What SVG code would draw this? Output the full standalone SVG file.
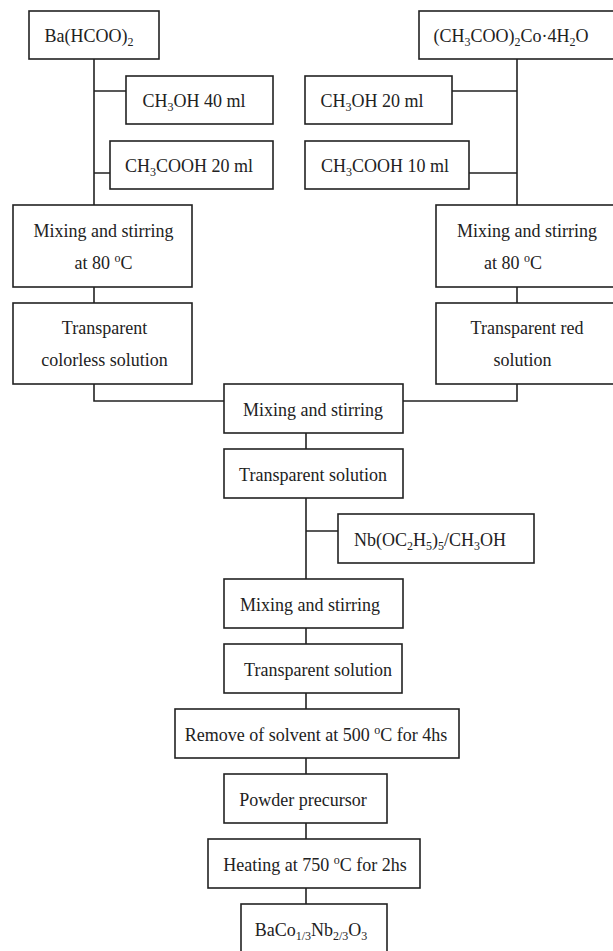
<svg xmlns="http://www.w3.org/2000/svg" width="613" height="951" viewBox="0 0 613 951">
<style>
rect{fill:#fff;stroke:#222;stroke-width:1.6}
text{font-family:'Liberation Serif','Times New Roman',Times,serif;font-size:18px;fill:#222;text-anchor:middle}
.s{font-size:12px}
#connectors path{fill:none;stroke:#222;stroke-width:1.6}
</style>
<rect x="0" y="0" width="613" height="951" style="stroke:none"/>
<g id="connectors">
<path d="M94 59V205M94 91H126M94 173H110M94 287V303M94 384V401H224"/>
<path d="M517 59V205M452 91H517M469 173H517M517 287V303M517 384V401H403"/>
<path d="M306 433V449M306 498V579M306 531H338M306 628V644M306 693V709M306 758V774M306 823V839M306 888V904"/>
</g>
<g font-family="Liberation Serif, serif">
<g id="ba"><rect x="29" y="11" width="130" height="48"/><text x="89" y="42">Ba(HCOO)<tspan class="s" dy="4">2</tspan></text></g>
<g id="meoh40"><rect x="126" y="76" width="147" height="48"/><text x="194" y="107">CH<tspan class="s" dy="4">3</tspan><tspan dy="-4">OH 40 ml</tspan></text></g>
<g id="acoh20"><rect x="110" y="141" width="163" height="48"/><text x="189" y="172">CH<tspan class="s" dy="4">3</tspan><tspan dy="-4">COOH 20 ml</tspan></text></g>
<g id="co"><rect x="419" y="11" width="196" height="48"/><text x="511" y="42">(CH<tspan class="s" dy="4">3</tspan><tspan dy="-4">COO)</tspan><tspan class="s" dy="4">2</tspan><tspan dy="-4">Co·4H</tspan><tspan class="s" dy="4">2</tspan><tspan dy="-4">O</tspan></text></g>
<g id="meoh20"><rect x="305" y="76" width="147" height="48"/><text x="372" y="107">CH<tspan class="s" dy="4">3</tspan><tspan dy="-4">OH 20 ml</tspan></text></g>
<g id="acoh10"><rect x="305" y="141" width="164" height="48"/><text x="385" y="172">CH<tspan class="s" dy="4">3</tspan><tspan dy="-4">COOH 10 ml</tspan></text></g>
<g id="mixL"><rect x="13" y="205" width="179" height="82"/><text x="103.5" y="237">Mixing and stirring</text><text x="103.5" y="269">at 80 <tspan class="s" dy="-7">o</tspan><tspan dy="7">C</tspan></text></g>
<g id="mixR"><rect x="436" y="205" width="179" height="82"/><text x="527" y="237">Mixing and stirring</text><text x="513" y="269">at 80 <tspan class="s" dy="-7">o</tspan><tspan dy="7">C</tspan></text></g>
<g id="solL"><rect x="13" y="303" width="179" height="81"/><text x="104.5" y="334">Transparent</text><text x="104.5" y="366">colorless solution</text></g>
<g id="solR"><rect x="436" y="303" width="179" height="81"/><text x="527" y="334">Transparent red</text><text x="522.5" y="366">solution</text></g>
<g id="mix1"><rect x="224" y="384" width="179" height="49"/><text x="313" y="416">Mixing and stirring</text></g>
<g id="ts1"><rect x="224" y="449" width="179" height="49"/><text x="313" y="481">Transparent solution</text></g>
<g id="nb"><rect x="338" y="514" width="196" height="49"/><text x="430" y="546">Nb(OC<tspan class="s" dy="4">2</tspan><tspan dy="-4">H</tspan><tspan class="s" dy="4">5</tspan><tspan dy="-4">)</tspan><tspan class="s" dy="4">5</tspan><tspan dy="-4">/CH</tspan><tspan class="s" dy="4">3</tspan><tspan dy="-4">OH</tspan></text></g>
<g id="mix2"><rect x="224" y="579" width="179" height="49"/><text x="310" y="611">Mixing and stirring</text></g>
<g id="ts2"><rect x="224" y="644" width="178" height="49"/><text x="318" y="676">Transparent solution</text></g>
<g id="remove"><rect x="175" y="709" width="284" height="49"/><text x="316" y="741">Remove of solvent at 500 <tspan class="s" dy="-7">o</tspan><tspan dy="7">C for 4hs</tspan></text></g>
<g id="powder"><rect x="224" y="774" width="163" height="49"/><text x="303" y="806">Powder precursor</text></g>
<g id="heat"><rect x="208" y="839" width="212" height="49"/><text x="315" y="871">Heating at 750 <tspan class="s" dy="-7">o</tspan><tspan dy="7">C for 2hs</tspan></text></g>
<g id="product"><rect x="241" y="904" width="146" height="60"/><text x="311" y="936">BaCo<tspan class="s" dy="4">1/3</tspan><tspan dy="-4">Nb</tspan><tspan class="s" dy="4">2/3</tspan><tspan dy="-4">O</tspan><tspan class="s" dy="4">3</tspan></text></g>
</g>
</svg>
